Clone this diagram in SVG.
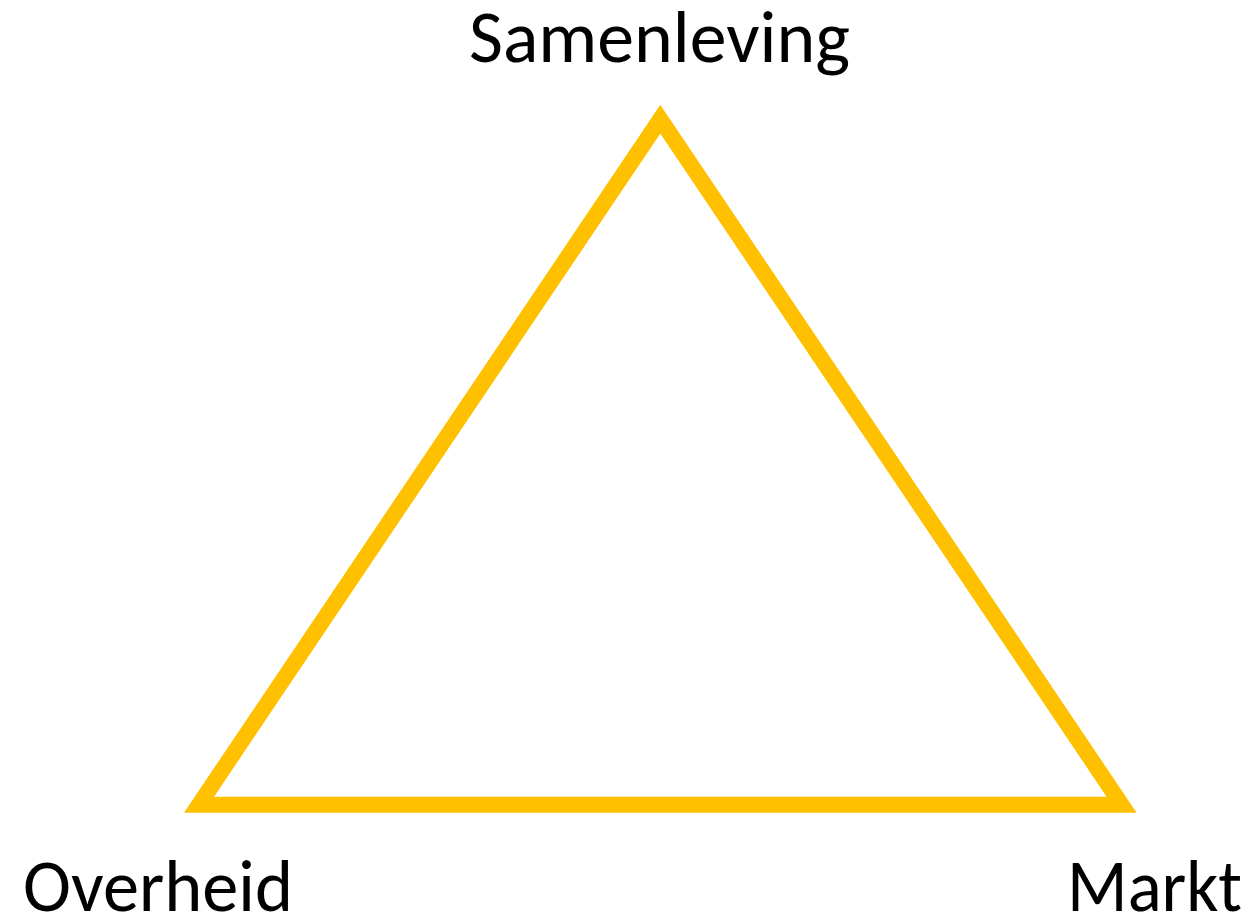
<svg xmlns="http://www.w3.org/2000/svg" width="1255" height="919" viewBox="0 0 1255 919">
  <style>
    .lbl { font-family: Carlito, "Open Sans", "Liberation Sans", sans-serif; font-size: 74px; fill: #000000; text-anchor: middle; }
    .tri { fill: none; stroke: #FFC000; stroke-width: 16; stroke-linejoin: miter; }
  </style>
  <rect width="1255" height="919" fill="#ffffff"/>
  <g id="connectors">
    <polygon class="tri" points="660.3,119.2 1121.6,804.7 199,804.7"/>
  </g>
  <g id="samenleving">
    <text class="lbl" x="659.5" y="62" textLength="381" lengthAdjust="spacingAndGlyphs">Samenleving</text>
  </g>
  <g id="overheid">
    <text class="lbl" x="158" y="911" textLength="270" lengthAdjust="spacingAndGlyphs">Overheid</text>
  </g>
  <g id="markt">
    <text class="lbl" x="1154.5" y="911" textLength="175" lengthAdjust="spacingAndGlyphs">Markt</text>
  </g>
</svg>
